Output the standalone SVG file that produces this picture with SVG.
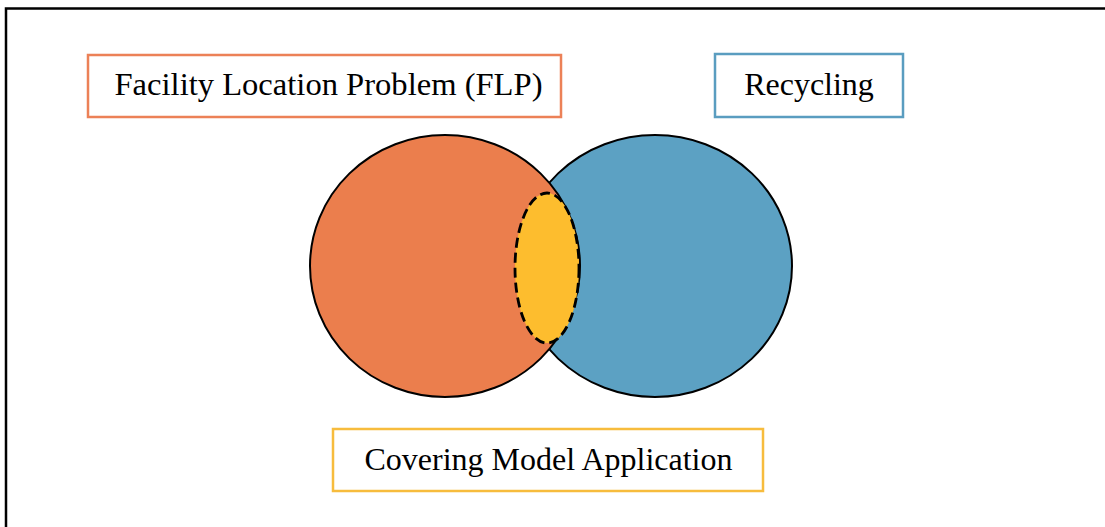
<svg xmlns="http://www.w3.org/2000/svg" width="1105" height="527" viewBox="0 0 1105 527">
<style>
.lbl{font-family:"Liberation Serif","Times New Roman",serif;font-size:32px;fill:#000;text-anchor:middle}
.box{fill:#fff;stroke-width:2.5}
.circ{stroke:#000;stroke-width:2}
</style>
<rect width="1105" height="527" fill="#fff"/>
<g id="frame">
<path d="M6,527 V8.5 H1105" fill="none" stroke="#000" stroke-width="2.5"/>
</g>
<g id="recycling-circle"><ellipse class="circ" cx="655" cy="266" rx="137" ry="131" fill="#5CA1C3"/></g>
<g id="flp-circle"><ellipse class="circ" cx="445" cy="266" rx="135" ry="131" fill="#EB7E4D"/></g>
<g id="overlap"><ellipse cx="547" cy="268" rx="32" ry="75" fill="#FDBD2E" stroke="#000" stroke-width="2.8" stroke-dasharray="10,5"/></g>
<g id="flp-label">
<rect class="box" x="88" y="55" width="473" height="62" stroke="#EC8157"/>
<text class="lbl" x="328.5" y="95" style="font-size:32.6px">Facility Location Problem (FLP)</text>
</g>
<g id="recycling-label">
<rect class="box" x="715" y="54" width="188" height="63" stroke="#5A9DC0"/>
<text class="lbl" x="809" y="95">Recycling</text>
</g>
<g id="covering-label">
<rect class="box" x="333" y="429" width="430" height="62" stroke="#F7BC3D"/>
<text class="lbl" x="548.5" y="470">Covering Model Application</text>
</g>
<g id="connectors"/>
</svg>
